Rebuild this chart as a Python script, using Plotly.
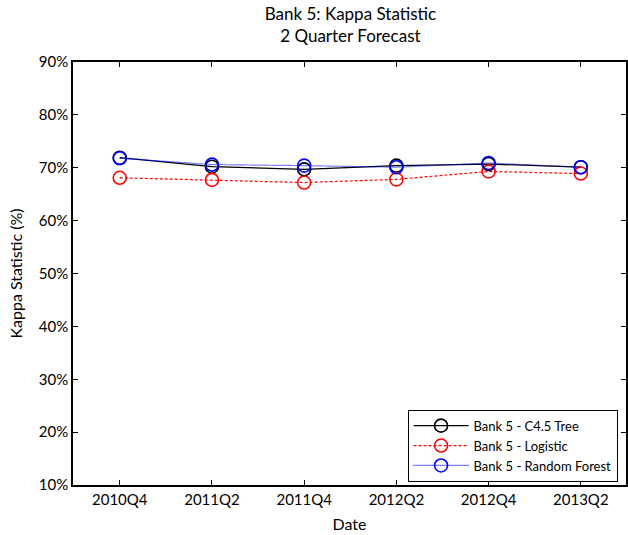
import plotly.graph_objects as go

# Quarterly forecast dates and kappa statistic (%) per model
quarters = ["2010Q4", "2011Q2", "2011Q4", "2012Q2", "2012Q4", "2013Q2"]
c45_tree = [71.9, 70.2, 69.7, 70.4, 70.7, 70.1]
logistic = [68.1, 67.7, 67.2, 67.8, 69.3, 68.9]
random_forest = [71.8, 70.6, 70.4, 70.1, 70.9, 70.1]

series = [
    ("Bank 5 - C4.5 Tree", c45_tree, "black", "solid"),
    ("Bank 5 - Logistic", logistic, "red", "3px,2px"),
    ("Bank 5 - Random Forest", random_forest, "blue", "1px,1px"),
]

font_family = "Lato, 'Open Sans', sans-serif"

fig = go.Figure()
for name, values, color, dash in series:
    fig.add_trace(go.Scatter(
        x=list(range(len(quarters))),
        y=values,
        name=name,
        mode="lines+markers",
        line=dict(color=color, width=1.2, dash=dash),
        marker=dict(symbol="circle-open", size=13, color=color,
                    line=dict(width=1.6, color=color)),
    ))

fig.update_layout(
    width=628, height=535,
    margin=dict(l=73, r=0, t=62, b=50),
    paper_bgcolor="white", plot_bgcolor="white",
    font=dict(family=font_family, size=15, color="black"),
    title=dict(
        text="Bank 5: Kappa Statistic<br>2 Quarter Forecast",
        x=0.558, xanchor="center", y=0.962, yanchor="top",
        font=dict(family=font_family, size=17, color="black"),
    ),
    showlegend=True,
    legend=dict(
        x=0.605, xanchor="left", y=0.178, yanchor="top",
        bgcolor="white", bordercolor="black", borderwidth=1,
        font=dict(family=font_family, size=13, color="black"),
        tracegroupgap=0, itemwidth=55,
    ),
)

fig.update_xaxes(
    tickmode="array",
    tickvals=list(range(len(quarters))),
    ticktext=quarters,
    range=[-0.507, 5.49],
    showgrid=False, zeroline=False,
    showline=True, linecolor="black", linewidth=1.5, mirror="ticks",
    ticks="inside", ticklen=5, tickcolor="black", tickwidth=1,
    title=dict(text="Date", standoff=12, font=dict(size=16)),
)

fig.update_yaxes(
    range=[10, 90], dtick=10, ticksuffix="%",
    showgrid=False, zeroline=False,
    showline=True, linecolor="black", linewidth=1.5, mirror="ticks",
    ticks="inside", ticklen=5, tickcolor="black", tickwidth=1,
    title=dict(text="Kappa Statistic (%)", standoff=12, font=dict(size=16)),
)

fig.write_html("out.html")
